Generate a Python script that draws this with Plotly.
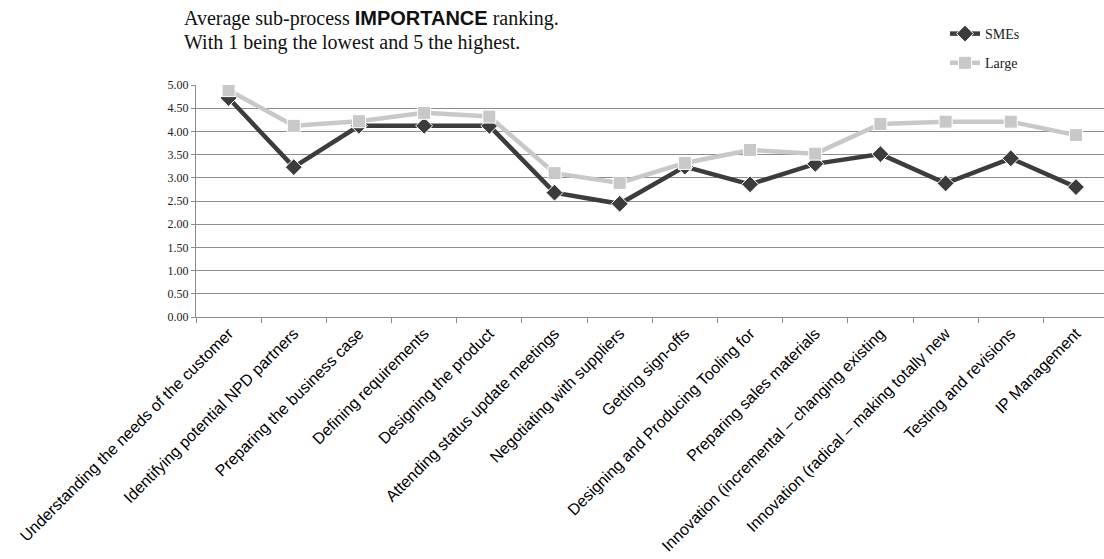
import plotly.graph_objects as go

categories = [
    "Understanding the needs of the customer",
    "Identifying potential NPD partners",
    "Preparing the business case",
    "Defining requirements",
    "Designing the product",
    "Attending status update meetings",
    "Negotiating with suppliers",
    "Getting sign-offs",
    "Designing and Producing Tooling for",
    "Preparing sales materials",
    "Innovation (incremental \u2013 changing existing",
    "Innovation (radical \u2013 making totally new",
    "Testing and revisions",
    "IP Management",
]
smes = [4.72, 3.23, 4.12, 4.12, 4.12, 2.68, 2.44, 3.24, 2.86, 3.30, 3.51, 2.88, 3.42, 2.80]
large = [4.89, 4.12, 4.22, 4.40, 4.32, 3.10, 2.89, 3.32, 3.60, 3.52, 4.16, 4.21, 4.21, 3.92]
yticks = [0, 0.5, 1, 1.5, 2, 2.5, 3, 3.5, 4, 4.5, 5]

W, H = 1104, 559
L, R, T, B = 196, 0, 85, 242
pw = W - L - R
ph = H - T - B

fig = go.Figure()
fig.add_trace(go.Scatter(
    x=categories, y=smes, name="SMEs", mode="lines+markers",
    line=dict(color="#3c3c3c", width=4.5),
    marker=dict(symbol="diamond", size=13, color="#3c3c3c", line=dict(color="white", width=1)),
    legendgroup="a",
))
fig.add_trace(go.Scatter(
    x=categories, y=large, name="Large", mode="lines+markers",
    line=dict(color="#c8c8c8", width=4.5),
    marker=dict(symbol="square", size=13, color="#c8c8c8", line=dict(color="white", width=1)),
    legendgroup="b",
))

fig.update_layout(
    width=W, height=H,
    margin=dict(l=L, r=R, t=T, b=B, pad=0, autoexpand=False),
    paper_bgcolor="white", plot_bgcolor="white",
    showlegend=True,
    legend=dict(
        x=(945 - L) / pw, y=1 + (T - 18) / ph, xanchor="left", yanchor="top",
        font=dict(family="Liberation Serif", size=14, color="#222"),
        tracegroupgap=8, itemwidth=30, bgcolor="rgba(0,0,0,0)",
    ),
    xaxis=dict(
        type="category", range=[-0.5, 13.43], automargin=False,
        tickangle=-45, tickfont=dict(family="Liberation Sans", size=16, color="#000"),
        showgrid=False, showline=True, linecolor="#8c8c8c", linewidth=1,
        ticks="outside", tickson="boundaries", ticklen=5, tickcolor="#8c8c8c",
    ),
    yaxis=dict(
        range=[0, 5], tickvals=yticks, ticktext=[f"{v:.2f}" for v in yticks],
        automargin=False,
        tickfont=dict(family="Liberation Serif", size=12, color="#222"),
        showgrid=True, gridcolor="#8c8c8c", gridwidth=1,
        showline=True, linecolor="#8c8c8c", linewidth=1,
        ticks="outside", ticklen=4, tickcolor="#8c8c8c", zeroline=False,
    ),
    annotations=[
        dict(
            xref="paper", yref="paper",
            x=(182 - L) / pw, y=1 + (T - 19) / ph, xanchor="left", yanchor="middle",
            showarrow=False,
            text='Average sub-process <span style="font-family:Liberation Sans"><b>IMPORTANCE</b></span> ranking.',
            font=dict(family="Liberation Serif", size=20, color="#111"),
        ),
        dict(
            xref="paper", yref="paper",
            x=(182 - L) / pw, y=1 + (T - 42) / ph, xanchor="left", yanchor="middle",
            showarrow=False,
            text="With 1 being the lowest and 5 the highest.",
            font=dict(family="Liberation Serif", size=20, color="#111"),
        ),
    ],
)

fig.write_html("out.html")
